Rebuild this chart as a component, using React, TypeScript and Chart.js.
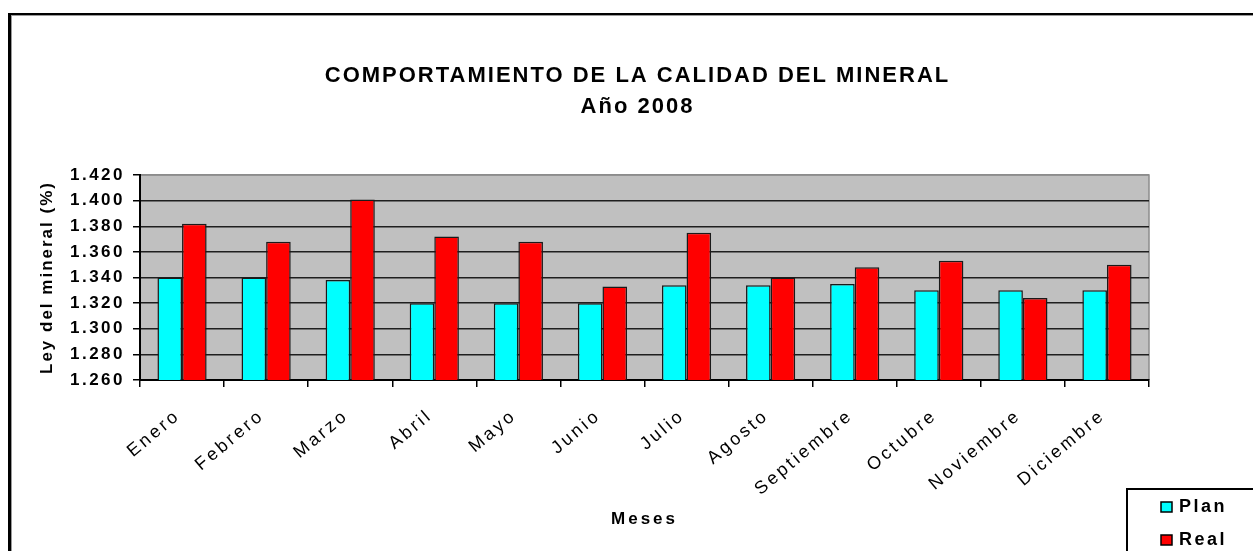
import React, { useEffect, useRef } from 'react';
import { Chart, registerables } from 'chart.js';

Chart.register(...registerables);

const categories = ['Enero', 'Febrero', 'Marzo', 'Abril', 'Mayo', 'Junio', 'Julio', 'Agosto', 'Septiembre', 'Octubre', 'Noviembre', 'Diciembre'];
const planValues = [1.340, 1.340, 1.338, 1.320, 1.320, 1.320, 1.334, 1.334, 1.335, 1.330, 1.330, 1.330];
const realValues = [1.382, 1.368, 1.401, 1.372, 1.368, 1.333, 1.375, 1.340, 1.348, 1.353, 1.324, 1.350];
const seriesLabels = ['Plan', 'Real'];
const seriesColors = ['#00FFFF', '#FF0000'];
const titleLines = ['COMPORTAMIENTO DE LA CALIDAD DEL MINERAL', 'Año 2008'];
const yAxisTitle = 'Ley del mineral (%)';
const xAxisTitle = 'Meses';
const Y_MIN = 1.26;
const Y_MAX = 1.42;
const Y_STEP = 0.02;

const FONT = '"Liberation Sans", Arial, sans-serif';
const W = 1253;
const H = 551;

function wrapSpacing(obj: any, method: string, spacing: string, dx = 0) {
  if (!obj || obj['__ws_' + method]) return;
  const orig = obj[method];
  obj[method] = function (...args: any[]) {
    const ctx = this.ctx;
    ctx.save();
    ctx.letterSpacing = spacing;
    if (dx) ctx.translate(dx, 0);
    try {
      return orig.apply(this, args);
    } finally {
      ctx.restore();
    }
  };
  obj['__ws_' + method] = true;
}

const spacingPlugin = {
  id: 'spacing',
  afterLayout(chart: any) {
    wrapSpacing(chart.scales.x, 'drawLabels', '3px', -4);
    wrapSpacing(chart.scales.x, 'drawTitle', '3px');
    wrapSpacing(chart.scales.y, 'drawLabels', '2.5px');
    wrapSpacing(chart.scales.y, 'drawTitle', '2px');
    wrapSpacing(chart.titleBlock, 'draw', '2px', -7);
  },
};

const framePlugin = {
  id: 'frame',
  beforeDraw(chart: any) {
    const ctx = chart.ctx;
    const a = chart.chartArea;
    ctx.save();
    ctx.fillStyle = '#ffffff';
    ctx.fillRect(0, 0, W, H);
    // outer frame
    ctx.fillStyle = '#000000';
    ctx.fillRect(8, 13, W - 8, 2);
    ctx.fillRect(8, 13, 3, H - 13);
    ctx.fillStyle = '#9a9a9a';
    ctx.fillRect(11, 15, W - 11, 1);
    ctx.fillRect(11, 15, 1, H - 15);
    // plot area
    ctx.fillStyle = '#C0C0C0';
    ctx.fillRect(a.left, a.top, a.right - a.left, a.bottom - a.top);
    ctx.strokeStyle = '#8c8c8c';
    ctx.lineWidth = 1.5;
    ctx.beginPath();
    ctx.moveTo(a.left, a.top);
    ctx.lineTo(a.right, a.top);
    ctx.lineTo(a.right, a.bottom);
    ctx.stroke();
    ctx.restore();
  },
  afterDraw(chart: any) {
    const ctx = chart.ctx;
    ctx.save();
    (ctx as any).letterSpacing = '2.5px';
    // legend box
    const lx = 1127;
    const ly = 489;
    ctx.fillStyle = '#ffffff';
    ctx.fillRect(lx, ly, W - lx + 5, H - ly + 5);
    ctx.strokeStyle = '#000000';
    ctx.lineWidth = 2;
    ctx.strokeRect(lx, ly, W - lx + 5, H - ly + 5);
    ctx.font = 'bold 18px ' + FONT;
    ctx.textBaseline = 'middle';
    ctx.textAlign = 'left';
    chart.data.datasets.forEach((ds: any, i: number) => {
      const cy = 507 + i * 33;
      ctx.fillStyle = ds.backgroundColor;
      ctx.fillRect(1161, cy - 5, 11, 10);
      ctx.lineWidth = 1.5;
      ctx.strokeStyle = '#000000';
      ctx.strokeRect(1161, cy - 5, 11, 10);
      ctx.fillStyle = '#000000';
      ctx.fillText(ds.label, 1179, cy);
    });
    ctx.restore();
  },
};

export default function App() {
  const ref = useRef<HTMLCanvasElement | null>(null);
  useEffect(() => {
    if (!ref.current) return;
    const chart = new Chart(ref.current, {
      type: 'bar',
      data: {
        labels: categories,
        datasets: [
          {
            label: seriesLabels[0],
            data: planValues,
            backgroundColor: seriesColors[0],
            borderColor: '#1a1a1a',
            borderWidth: 1.5,
            categoryPercentage: 0.585,
            barPercentage: 1,
          },
          {
            label: seriesLabels[1],
            data: realValues,
            backgroundColor: seriesColors[1],
            borderColor: '#1a1a1a',
            borderWidth: 1.5,
            categoryPercentage: 0.585,
            barPercentage: 1,
          },
        ],
      },
      options: {
        responsive: false,
        animation: false,
        layout: { padding: { top: 14, left: 0, right: W - 1149, bottom: 0 } },
        plugins: {
          legend: { display: false },
          tooltip: { enabled: false },
          title: {
            display: true,
            fullSize: false,
            text: titleLines,
            color: '#000000',
            font: { family: FONT, size: 22, weight: 'bold', lineHeight: 1.41 },
            padding: { top: 46, bottom: 53 },
          },
        },
        scales: {
          x: {
            grid: {
              display: true,
              drawOnChartArea: false,
              drawTicks: true,
              tickLength: 7,
              color: '#000000',
              lineWidth: 1.5,
              offset: true,
            },
            border: { display: true, color: '#000000', width: 2 },
            ticks: {
              color: '#000000',
              font: { family: FONT, size: 18 },
              minRotation: 40,
              maxRotation: 40,
              padding: 18,
              autoSkip: false,
            },
            title: {
              display: true,
              text: xAxisTitle,
              color: '#000000',
              font: { family: FONT, size: 17, weight: 'bold' },
              padding: { top: 0, bottom: 21 },
            },
            afterFit: (s: any) => {
              s.height = H - 380;
              s.paddingLeft = 0;
              s.paddingRight = 0;
            },
          },
          y: {
            min: Y_MIN,
            max: Y_MAX,
            ticks: {
              stepSize: Y_STEP,
              color: '#000000',
              font: { family: FONT, size: 17, weight: 'bold' },
              padding: 8,
              callback: (v: any) => Number(v).toFixed(3),
            },
            grid: {
              color: (c: any) => (c.tick && Math.abs(c.tick.value - Y_MAX) < 1e-9 ? '#8c8c8c' : '#1e1e1e'),
              lineWidth: 1.5,
              tickLength: 7,
              drawTicks: true,
              tickColor: '#000000',
            },
            border: { display: true, color: '#000000', width: 2 },
            title: {
              display: true,
              text: yAxisTitle,
              color: '#000000',
              font: { family: FONT, size: 17, weight: 'bold' },
              padding: { top: 37, bottom: 0 },
            },
            afterFit: (s: any) => {
              s.width = 140;
              s.paddingTop = 0;
              s.paddingBottom = 0;
            },
          },
        },
      },
      plugins: [spacingPlugin, framePlugin],
    } as any);
    return () => chart.destroy();
  }, []);
  return (
    <div style={{ position: 'fixed', left: 0, top: 0, width: W, height: H, background: '#fff' }}>
      <canvas ref={ref} width={W} height={H} style={{ display: 'block', width: W, height: H }} />
    </div>
  );
}
